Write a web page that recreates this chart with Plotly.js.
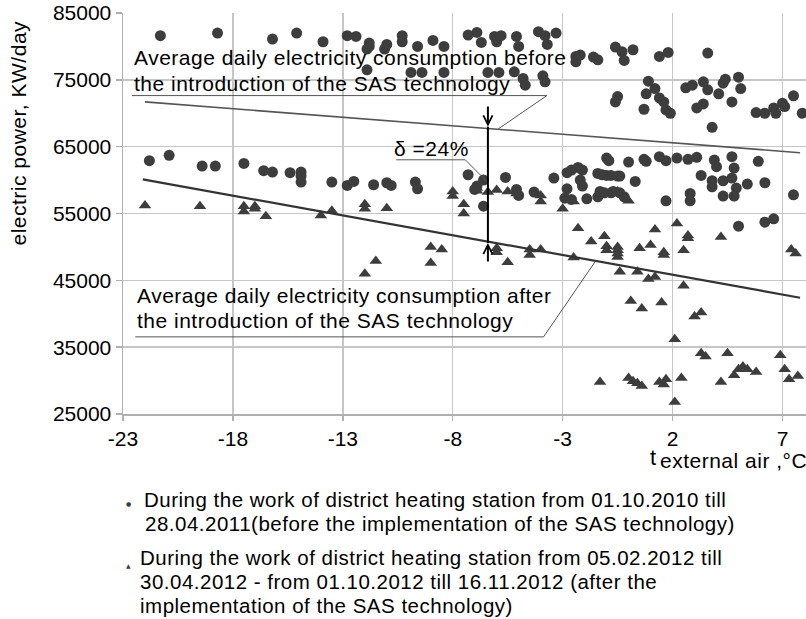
<!DOCTYPE html>
<html>
<head>
<meta charset="utf-8">
<script src="https://cdn.plot.ly/plotly-3.0.1.min.js"></script>
<style>
  html, body { margin: 0; padding: 0; background: #fff; }
  #chart { width: 806px; height: 619px; }
  .annotation-text { letter-spacing: 0.5px; }
</style>
</head>
<body>
<div id="chart"></div>
<script>
// Before SAS technology (circles)
const beforeTemp = [
  -21.3,-18.7,-16.2,-15.1,-13.9,-12.8,-12.4,-11.8,-11.8,-11.9,-11.0,-11.1,-10.3,-10.3,-9.6,-8.9,-8.4,
  -11.9,-9.9,-9.4,-8.4,-7.3,-6.9,-6.7,-6.1,-5.8,-6.0,-5.1,-5.0,-4.1,-3.8,-3.7,-3.3,
  -6.4,-5.9,-5.2,-4.8,-4.7,-3.9,-3.8,-2.4,-2.2,-2.4,-1.6,-1.4,-0.6,-0.3,-0.2,0.2,1.4,1.8,3.6,
  -0.5,-0.6,0.9,0.8,0.7,1.2,1.4,1.6,1.7,1.9,2.6,2.9,3.4,3.6,3.1,3.4,3.8,4.1,4.3,4.4,4.7,5.0,5.1,
  5.8,6.2,6.6,6.7,7.0,7.1,7.5,7.9,
  -21.8,-20.9,-19.4,-18.8,-17.5,-16.6,-16.2,-15.4,-14.9,-14.9,-14.9,-13.5,-12.8,-12.5,-11.6,-11.0,-10.8,
  -9.7,-9.6,-7.3,-6.9,-7.0,-6.6,-5.6,-5.1,-5.0,-4.3,-3.4,-2.8,-2.6,-2.3,-2.1,-2.2,-2.1,-2.8,-2.9,-2.6,
  -1.9,-1.4,-1.3,-1.1,-0.8,-0.7,-0.4,-0.2,-1.4,-1.2,-1.0,-0.8,-0.5,-0.4,-1.0,-0.9,0.0,0.3,0.7,0.8,
  1.4,1.7,2.2,2.7,3.1,1.7,2.8,2.8,3.3,3.9,4.0,3.8,3.8,4.3,4.3,4.8,4.7,4.8,4.7,4.9,5.4,5.9,6.2,7.5,
  5.0,6.2,6.6,-6.6
];
const beforePower = [
  81600,82000,81100,82000,80700,81600,81500,80500,80000,79600,80300,79600,81600,80700,80000,80900,80000,
  76500,76100,76100,76100,81700,82100,80600,81500,81600,80700,81500,80000,82200,81600,80300,82000,
  76100,76100,76200,75200,74200,75600,74700,78500,78700,77700,78400,78000,79900,79200,77900,79500,78500,79100,79000,
  72500,71700,74800,72900,70600,73700,72300,71700,70500,70000,73800,74200,74700,73500,70800,71400,67900,72900,74500,75100,71700,75400,73700,
  70100,70000,70800,70000,71500,71000,72600,70000,
  62900,63700,62100,62100,62500,61400,61200,61100,61200,60600,59700,59700,59200,59800,59300,59600,59200,
  59700,58700,60800,59100,58600,60000,60400,58600,57700,58200,60300,61100,61500,61900,61500,60000,59100,58700,57300,57100,
  57200,57500,58300,58100,58100,58300,58100,57500,61000,60800,60700,60700,60600,60600,63300,62900,62700,59800,63100,62800,
  63500,62900,63300,63100,63400,56900,58000,56900,60700,63000,62000,59900,59000,59900,57600,57600,63500,61800,60300,58800,59400,62800,59600,57800,
  53100,53700,54200,56100
];

// After SAS technology (triangles)
const afterTemp = [
  -22.0,-19.5,-17.5,-17.5,-17.0,-17.0,-16.5,-14.0,-13.5,-12.0,-12.0,-11.0,-8.0,-8.0,-7.5,-7.5,-6.9,-6.9,
  -6.4,-6.0,-5.5,-5.1,-4.0,-4.0,-3.0,-2.5,-0.5,0.0,-2.3,-1.7,-1.1,-1.0,-1.0,-0.5,-0.5,-0.5,-0.5,0.5,1.0,
  1.2,1.6,1.6,2.2,2.7,2.7,2.5,4.2,7.4,7.6,-2.5,-0.4,0.4,0.9,1.2,2.5,0.1,0.6,1.5,3.0,3.3,2.1,3.3,3.5,4.5,6.9,
  -1.3,0.0,0.2,0.4,0.6,1.4,1.6,1.7,2.4,2.1,4.2,4.8,5.0,5.2,5.4,5.8,7.1,7.3,7.7,
  -9.0,-8.5,-9.0,-11.5,-12.0,-6.0,-6.0,-5.5,-4.5,-4.5,-4.0
];
const afterPower = [
  56200,56100,56100,55300,56100,55700,54600,54700,55400,56400,55700,55800,58300,57600,56400,55000,58800,58400,
  58200,58500,58300,58000,57700,56800,55700,56800,58300,56900,52800,50800,51600,50100,49500,50000,49500,49000,48500,49800,50300,
  52600,49200,48800,53500,51700,51300,49500,51500,49600,49000,48400,46300,46300,45200,45500,44200,41900,40800,41700,39600,40200,36200,34100,33600,34100,33800,
  29800,30400,29900,29600,29200,29800,29400,30200,30400,26800,29800,30800,31700,32100,31700,31300,31700,30200,30700,
  50000,49600,47600,47900,46000,49800,49200,47700,49600,48800,49600
];

// Average (trend) lines
const trendBeforeTemp = [-22.0, 7.8];
const trendBeforePower = [71700, 64100];
const trendAfterTemp = [-22.1, 7.8];
const trendAfterPower = [60100, 42400];

// Axis ticks
const xTicks = [-23, -18, -13, -8, -3, 2, 7];
const yTicks = [25000, 35000, 45000, 55000, 65000, 75000, 85000];

// Delta marker
const deltaTemp = -6.4;
const deltaBeforeLevel = 68000;
const deltaAfterLevel = 50600;

const FONT = 'Liberation Sans, Arial, Helvetica, sans-serif';
const markColor = '#3d3d3d';

const traces = [
  { x: beforeTemp, y: beforePower, type: 'scatter', mode: 'markers', name: 'before',
    marker: { symbol: 'circle', size: 11, color: markColor }, showlegend: false, cliponaxis: true },
  { x: afterTemp, y: afterPower, type: 'scatter', mode: 'markers', name: 'after',
    marker: { symbol: 'triangle-up', size: 11, color: markColor }, showlegend: false, cliponaxis: true },
  { x: trendBeforeTemp, y: trendBeforePower, type: 'scatter', mode: 'lines',
    line: { color: '#555', width: 1.6 }, showlegend: false },
  { x: trendAfterTemp, y: trendAfterPower, type: 'scatter', mode: 'lines',
    line: { color: '#333', width: 2.2 }, showlegend: false }
];

function txt(text, x, y, size, xanchor, xref, yref, extra) {
  return Object.assign({
    text: text, x: x, y: y, xref: xref || 'x', yref: yref || 'y',
    xanchor: xanchor || 'left', yanchor: 'middle', showarrow: false,
    font: { family: FONT, size: size, color: '#000' }
  }, extra || {});
}

const annotations = [
  txt('Average daily electricity consumption before', -22.59, 78276, 21),
  txt('the introduction of the SAS technology', -22.59, 74391, 21),
  txt('Average daily electricity consumption after', -22.44, 42757, 21),
  txt('the introduction of the SAS technology', -22.44, 39021, 21),
  txt('\u03b4 =24%', -10.75, 64678, 21),
  // arrows
  { x: deltaTemp, y: deltaBeforeLevel, ax: deltaTemp, ay: 71250, axref: 'x', ayref: 'y',
    xref: 'x', yref: 'y', text: '', showarrow: true, arrowhead: 5, arrowsize: 0.9,
    arrowwidth: 2, arrowcolor: '#000', standoff: 0 },
  { x: deltaTemp, y: deltaAfterLevel, ax: deltaTemp, ay: 47600, axref: 'x', ayref: 'y',
    xref: 'x', yref: 'y', text: '', showarrow: true, arrowhead: 5, arrowsize: 0.9,
    arrowwidth: 2, arrowcolor: '#000', standoff: 0 },
  // y axis title
  txt('electric power, KW/day', -0.1537, 0.6995, 21, 'center', 'paper', 'paper', { textangle: -90 }),
  // x axis title
  txt('t', 0.776, -0.108, 22, 'center', 'paper', 'paper'),
  txt('external air ,\u00b0C', 0.7833, -0.117, 21, 'left', 'paper', 'paper'),
  // legend
  txt('\u25cf', 0.0092, -0.2227, 6, 'center', 'paper', 'paper', { font: { family: 'DejaVu Sans', size: 6, color: markColor } }),
  txt('During the work of district heating station from 01.10.2010 till', 0.0274, -0.213, 20.5, 'left', 'paper', 'paper'),
  txt('28.04.2011(before the implementation of the SAS technology)', 0.0297, -0.2728, 20.5, 'left', 'paper', 'paper'),
  txt('\u25b2', 0.0078, -0.3766, 6, 'center', 'paper', 'paper', { font: { family: 'DejaVu Sans', size: 6, color: markColor } }),
  txt('During the work of district heating station from 05.02.2012 till', 0.0224, -0.3584, 20.5, 'left', 'paper', 'paper'),
  txt('30.04.2012 - from 01.10.2012 till 16.11.2012 (after the', 0.0224, -0.4182, 20.5, 'left', 'paper', 'paper'),
  txt('implementation of the SAS technology)', 0.0224, -0.4788, 20.5, 'left', 'paper', 'paper')
];

const lineStyle = { color: '#555', width: 1 };
const shapes = [
  // before label underline + leader
  { type: 'line', xref: 'x', yref: 'y', x0: -22.59, y0: 72642, x1: -3.72, y1: 72642, line: lineStyle },
  { type: 'line', xref: 'x', yref: 'y', x0: -3.72, y0: 72642, x1: -5.93, y1: 67650, line: lineStyle },
  // after label underline + leader
  { type: 'line', xref: 'x', yref: 'y', x0: -22.44, y0: 36541, x1: -3.87, y1: 36541, line: lineStyle },
  { type: 'line', xref: 'x', yref: 'y', x0: -3.87, y0: 36541, x1: -1.52, y1: 47800, line: lineStyle },
  // delta underline + leader
  { type: 'line', xref: 'x', yref: 'y', x0: -10.57, y0: 63034, x1: -7.43, y1: 63034, line: lineStyle },
  { type: 'line', xref: 'x', yref: 'y', x0: -7.43, y0: 63034, x1: -6.45, y1: 59792, line: lineStyle },
  // vertical delta bar
  { type: 'line', xref: 'x', yref: 'y', x0: deltaTemp, y0: deltaBeforeLevel, x1: deltaTemp, y1: deltaAfterLevel,
    line: { color: '#000', width: 2 } }
];

const layout = {
  width: 806, height: 619,
  margin: { l: 123, r: 0, t: 13, b: 205 },
  paper_bgcolor: '#fff', plot_bgcolor: '#fff',
  font: { family: FONT, color: '#000' },
  showlegend: false,
  xaxis: {
    range: [-23, 8.07], tickvals: xTicks, ticktext: xTicks.map(String),
    showgrid: true, gridcolor: '#c6c6c6', gridwidth: 1.5, zeroline: false,
    showline: true, linecolor: '#b0b0b0', linewidth: 1.5,
    ticks: 'outside', ticklen: 5, tickcolor: '#b0b0b0', tickwidth: 1.5,
    tickfont: { family: FONT, size: 21, color: '#000' }, fixedrange: true
  },
  yaxis: {
    range: [25000, 85000], tickvals: yTicks, ticktext: yTicks.map(String),
    showgrid: true, gridcolor: '#c6c6c6', gridwidth: 1.5, zeroline: false,
    showline: true, linecolor: '#b0b0b0', linewidth: 1.5,
    ticks: 'outside', ticklen: 6, tickcolor: '#b0b0b0', tickwidth: 1.5,
    tickfont: { family: FONT, size: 21, color: '#000' }, fixedrange: true
  },
  annotations: annotations,
  shapes: shapes
};

Plotly.newPlot('chart', traces, layout, { staticPlot: true, displayModeBar: false });
</script>
</body>
</html>
